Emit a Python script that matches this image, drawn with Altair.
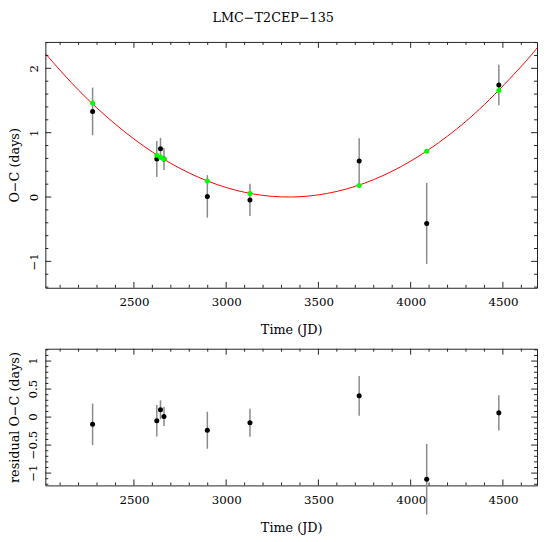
import altair as alt
import pandas as pd

# ---- data ----
times = [2276, 2624, 2644, 2663, 2898, 3129, 3721, 4087, 4478]
oc = [1.33, 0.59, 0.75, 0.59, 0.01, -0.045, 0.56, -0.41, 1.74]
err = [0.37, 0.28, 0.17, 0.17, 0.33, 0.25, 0.355, 0.63, 0.315]
model = [1.46, 0.65, 0.62, 0.59, 0.25, 0.056, 0.18, 0.71, 1.655]
resid = [-0.13, -0.065, 0.13, 0.01, -0.235, -0.10, 0.38, -1.11, 0.075]

curve_t = [2020, 2200, 2400, 2600, 2800, 3000, 3200, 3400, 3600, 3800, 4000, 4200, 4400, 4600, 4685]
curve_v = [2.23, 1.66, 1.13, 0.70, 0.373, 0.148, 0.025, 0.005, 0.087, 0.271, 0.558, 0.947, 1.438, 2.032, 2.316]

x_major = [2500, 3000, 3500, 4000, 4500]
x_minor = [2100, 2200, 2300, 2400, 2600, 2700, 2800, 2900, 3100, 3200, 3300, 3400,
           3600, 3700, 3800, 3900, 4100, 4200, 4300, 4400, 4600]
top_y_major = [-1, 0, 1, 2]
top_y_minor = [-1.4, -1.2, -0.8, -0.6, -0.4, -0.2, 0.2, 0.4, 0.6, 0.8, 1.2, 1.4, 1.6, 1.8, 2.2, 2.4]
bot_y_major = [-1, -0.5, 0, 0.5, 1]
bot_y_labels = ["\u22121", "\u22120.5", "0", "0.5", "1"]
bot_y_minor = [-1.2, -1.1, -0.9, -0.8, -0.7, -0.6, -0.4, -0.3, -0.2, -0.1,
               0.1, 0.2, 0.3, 0.4, 0.6, 0.7, 0.8, 0.9, 1.1, 1.2]

title_text = "LMC\u2212T2CEP\u2212135"
x_title = "Time (JD)"
top_y_title = "O\u2212C (days)"
bot_y_title = "residual O\u2212C (days)"

X_DOMAIN = [2020, 4685]
TOP_DOMAIN = [-1.41, 2.41]
BOT_DOMAIN = [-1.22, 1.22]

W = 500
TOP_H = 250
BOT_H = 139
FONT = "DejaVu Serif"

pts = pd.DataFrame({"t": times, "oc": oc, "err": err, "model": model, "resid": resid})
pts["lo"] = pts["oc"] - pts["err"]
pts["hi"] = pts["oc"] + pts["err"]
pts["rlo"] = pts["resid"] - pts["err"]
pts["rhi"] = pts["resid"] + pts["err"]
curve = pd.DataFrame({"t": curve_t, "v": curve_v})
bot_lab = pd.DataFrame({"v": bot_y_major, "lab": bot_y_labels})


def tick_layers(xs_major, xs_minor, ys_major, ys_minor, xscale, yscale, H):
    layers = []
    for vals, L in ((xs_major, 6), (xs_minor, 3)):
        d = pd.DataFrame({"t": vals})
        base = alt.Chart(d).mark_rule(color="#222222", strokeWidth=1)
        layers.append(base.encode(x=alt.X("t:Q", scale=xscale), y=alt.value(0), y2=alt.value(L)))
        layers.append(base.encode(x=alt.X("t:Q", scale=xscale), y=alt.value(H), y2=alt.value(H - L)))
    for vals, L in ((ys_major, 6), (ys_minor, 3)):
        d = pd.DataFrame({"v": vals})
        base = alt.Chart(d).mark_rule(color="#222222", strokeWidth=1)
        layers.append(base.encode(y=alt.Y("v:Q", scale=yscale), x=alt.value(0), x2=alt.value(L)))
        layers.append(base.encode(y=alt.Y("v:Q", scale=yscale), x=alt.value(W), x2=alt.value(W - L)))
    return layers


xscale = alt.Scale(domain=X_DOMAIN, nice=False, zero=False)
xaxis = alt.Axis(values=x_major, format="d", title=x_title, ticks=False, domain=False,
                 grid=False, labelPadding=9, titlePadding=17, labelOverlap=False)

# ---- top panel ----
top_scale = alt.Scale(domain=TOP_DOMAIN, nice=False, zero=False)
top_yaxis = alt.Axis(values=top_y_major, format="~g", title=top_y_title, ticks=False, domain=False,
                     grid=False, labelAngle=270, labelAlign="center", labelBaseline="bottom",
                     labelPadding=5, titlePadding=6, labelOverlap=False)

err_top = alt.Chart(pts).mark_rule(color="#8a8a8a", strokeWidth=1.5).encode(
    x=alt.X("t:Q", scale=xscale, axis=xaxis),
    y=alt.Y("lo:Q", scale=top_scale, axis=top_yaxis),
    y2="hi:Q",
)
line = alt.Chart(curve).mark_line(color="red", strokeWidth=1, interpolate="natural", clip=True).encode(
    x=alt.X("t:Q", scale=xscale, axis=xaxis), y=alt.Y("v:Q", scale=top_scale, axis=top_yaxis)
)
black_top = alt.Chart(pts).mark_circle(color="black", opacity=1, size=26).encode(
    x=alt.X("t:Q", scale=xscale, axis=xaxis), y=alt.Y("oc:Q", scale=top_scale, axis=top_yaxis)
)
green_top = alt.Chart(pts).mark_circle(color="#00ff00", opacity=1, size=26).encode(
    x=alt.X("t:Q", scale=xscale, axis=xaxis), y=alt.Y("model:Q", scale=top_scale, axis=top_yaxis)
)
top = alt.layer(
    err_top, line, black_top, green_top,
    *tick_layers(x_major, x_minor, top_y_major, top_y_minor, xscale, top_scale, TOP_H)
).properties(width=W, height=TOP_H)

# ---- bottom panel ----
bot_scale = alt.Scale(domain=BOT_DOMAIN, nice=False, zero=False)
bot_yaxis = alt.Axis(values=bot_y_major, title=bot_y_title, ticks=False, domain=False,
                     grid=False, labels=False, titlePadding=24)
err_bot = alt.Chart(pts).mark_rule(color="#8a8a8a", strokeWidth=1.5).encode(
    x=alt.X("t:Q", scale=xscale, axis=xaxis),
    y=alt.Y("rlo:Q", scale=bot_scale, axis=bot_yaxis),
    y2="rhi:Q",
)
black_bot = alt.Chart(pts).mark_circle(color="black", opacity=1, size=26).encode(
    x=alt.X("t:Q", scale=xscale, axis=xaxis), y=alt.Y("resid:Q", scale=bot_scale, axis=bot_yaxis)
)
labels_bot = alt.Chart(bot_lab).mark_text(
    angle=270, align="center", baseline="middle", font=FONT, fontSize=12, color="black"
).encode(
    y=alt.Y("v:Q", scale=bot_scale, axis=bot_yaxis), x=alt.value(-12), text="lab:N"
)
bottom = alt.layer(
    err_bot, black_bot, labels_bot,
    *tick_layers(x_major, x_minor, bot_y_major, bot_y_minor, xscale, bot_scale, BOT_H)
).properties(width=W, height=BOT_H)

chart = alt.vconcat(top, bottom, spacing=10).properties(
    title=alt.TitleParams(title_text, font=FONT, fontSize=13, fontWeight="normal",
                          color="black", anchor="middle", offset=16),
    padding={"left": 0, "top": 0, "right": 0, "bottom": 0},
).configure_view(stroke="#222222", strokeWidth=1).configure_axis(
    labelFont=FONT, labelFontSize=12, labelColor="black", labelOverlap=False,
    titleFont=FONT, titleFontSize=13, titleFontWeight="normal", titleColor="black",
).configure_concat(spacing=10)

chart.save("out.html", embed_options={"renderer": "svg", "actions": False})
